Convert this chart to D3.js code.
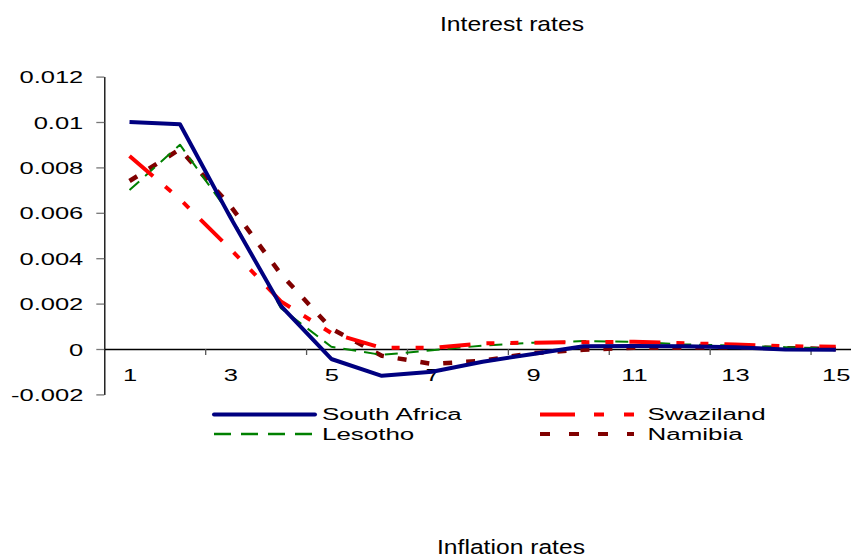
<!DOCTYPE html>
<html>
<head>
<meta charset="utf-8">
<script src="https://cdn.jsdelivr.net/npm/d3@7"></script>
<style>
  body { margin: 0; background: #fff; }
  text { font-family: "Liberation Sans", Arial, sans-serif; fill: #000; }
</style>
</head>
<body>
<svg id="chart" width="851" height="559"></svg>
<script>
// impulse response periods and tick labels
var periods = [1, 2, 3, 4, 5, 6, 7, 8, 9, 10, 11, 12, 13, 14, 15];
var xLabels = [1, 3, 5, 7, 9, 11, 13, 15];
var xTickMarks = [2.5, 4.5, 6.5, 8.5, 10.5, 12.5, 14.5];
var yTicks = [-0.002, 0, 0.002, 0.004, 0.006, 0.008, 0.01, 0.012];
var yTickLabels = ["-0.002", "0", "0.002", "0.004", "0.006", "0.008", "0.01", "0.012"];

// series values
var southAfrica = [0.0100, 0.0099, 0.0058, 0.0019, -0.00044, -0.00118, -0.00100, -0.00056, -0.00022, 0.00012, 0.00013, 0.00012, 0.00008, -0.00002, -0.00003];
var swaziland   = [0.0085, 0.0066, 0.0044, 0.0021, 0.0007, 0.00005, 0.00005, 0.00025, 0.00028, 0.00030, 0.00032, 0.00025, 0.00020, 0.00012, 0.00010];
var lesotho     = [0.0070, 0.0090, 0.0059, 0.0018, 0.0001, -0.00026, -0.00005, 0.00015, 0.00028, 0.00035, 0.00032, 0.00020, 0.00015, 0.00008, 0.00002];
var namibia     = [0.0074, 0.0088, 0.0063, 0.0033, 0.0009, -0.00030, -0.00066, -0.00052, -0.00018, -0.00003, 0.00006, 0.00006, 0.00008, 0.00004, 0.0];

var seriesNames = ["South Africa", "Swaziland", "Lesotho", "Namibia"];

var styles = {
  "South Africa": { color: "#000080", width: 4,   dash: null,              legendDash: null },
  "Swaziland":    { color: "#ff0000", width: 4,   dash: "31 16 8 16 8 16", legendDash: "35 19 10 20 10 20" },
  "Lesotho":      { color: "#008000", width: 2,   dash: "13 8",            legendDash: "17 10" },
  "Namibia":      { color: "#800000", width: 4.5, dash: "9 14",            legendDash: "10 19" }
};

var svg = d3.select("#chart");
svg.append("rect").attr("width", 851).attr("height", 559).attr("fill", "#fff");

var x = d3.scaleLinear().domain([0.5, 15.5]).range([104.3, 861]);
var y = d3.scaleLinear().domain([-0.002, 0.012]).range([394.4, 76.6]);

function stretch(sel, k) {
  sel.each(function() {
    var w = this.getComputedTextLength();
    d3.select(this).attr("textLength", w * k).attr("lengthAdjust", "spacingAndGlyphs");
  });
}

// y axis
var yAxis = svg.append("g")
  .attr("transform", "translate(" + x(0.5) + ",0)")
  .call(d3.axisLeft(y)
    .tickValues(yTicks)
    .tickFormat(function(d, i) { return yTickLabels[i]; })
    .tickSize(8)
    .tickSizeOuter(0)
    .tickPadding(13));
yAxis.select(".domain").attr("stroke", "#000").attr("stroke-width", 1.3);
yAxis.selectAll(".tick line").attr("stroke", "#777").attr("stroke-width", 1.3);
yAxis.selectAll("text").attr("font-size", 17).style("font-family", '"Liberation Sans", Arial, sans-serif').attr("dy", "0.36em");
stretch(yAxis.selectAll("text"), 1.5);

// x axis tick marks (between period pairs)
var xTicksG = svg.append("g")
  .attr("transform", "translate(0," + y(0) + ")")
  .call(d3.axisBottom(x).tickValues(xTickMarks).tickFormat("").tickSize(6).tickSizeOuter(0));
xTicksG.select(".domain").attr("stroke", "#000").attr("stroke-width", 1.3);
xTicksG.selectAll(".tick line").attr("stroke", "#555").attr("stroke-width", 1.3);

// x axis labels
var xLab = svg.append("g")
  .attr("transform", "translate(0," + y(0) + ")")
  .call(d3.axisBottom(x).tickValues(xLabels).tickSize(0).tickPadding(20));
xLab.select(".domain").remove();
xLab.selectAll("text").attr("font-size", 17).style("font-family", '"Liberation Sans", Arial, sans-serif');
stretch(xLab.selectAll("text"), 1.5);

// lines
var data = {
  "South Africa": southAfrica,
  "Swaziland": swaziland,
  "Lesotho": lesotho,
  "Namibia": namibia
};

var line = d3.line()
  .x(function(d, i) { return x(periods[i]); })
  .y(function(d) { return y(d); });

["Namibia", "Lesotho", "Swaziland", "South Africa"].forEach(function(name) {
  var s = styles[name];
  svg.append("path")
    .datum(data[name])
    .attr("d", line)
    .attr("fill", "none")
    .attr("stroke", s.color)
    .attr("stroke-width", s.width)
    .attr("stroke-linejoin", "round")
    .attr("stroke-dasharray", s.dash);
});

// titles
svg.append("text")
  .attr("x", 512).attr("y", 31)
  .attr("text-anchor", "middle")
  .attr("font-size", 21)
  .attr("textLength", 144).attr("lengthAdjust", "spacingAndGlyphs")
  .text("Interest rates");

svg.append("text")
  .attr("x", 511).attr("y", 553.5)
  .attr("text-anchor", "middle")
  .attr("font-size", 20.5)
  .attr("textLength", 148).attr("lengthAdjust", "spacingAndGlyphs")
  .text("Inflation rates");

// legend
var legendPos = [
  { x: 214, y: 414.5 },
  { x: 540, y: 414.5 },
  { x: 214, y: 434 },
  { x: 540, y: 434 }
];

var legend = svg.append("g");
seriesNames.forEach(function(name, i) {
  var s = styles[name];
  var p = legendPos[i];
  legend.append("line")
    .attr("x1", p.x).attr("x2", p.x + (i % 2 === 0 ? 101 : 94))
    .attr("y1", p.y).attr("y2", p.y)
    .attr("stroke", s.color)
    .attr("stroke-width", name === "Lesotho" ? 2.5 : 4)
    .attr("stroke-linecap", name === "South Africa" ? "round" : "butt")
    .attr("stroke-dasharray", s.legendDash);
  var t = legend.append("text")
    .attr("x", p.x + (i % 2 === 0 ? 108 : 107.5))
    .attr("y", p.y + 5.5)
    .attr("font-size", 16)
    .text(name);
  stretch(t, 1.62);
});
</script>
</body>
</html>
